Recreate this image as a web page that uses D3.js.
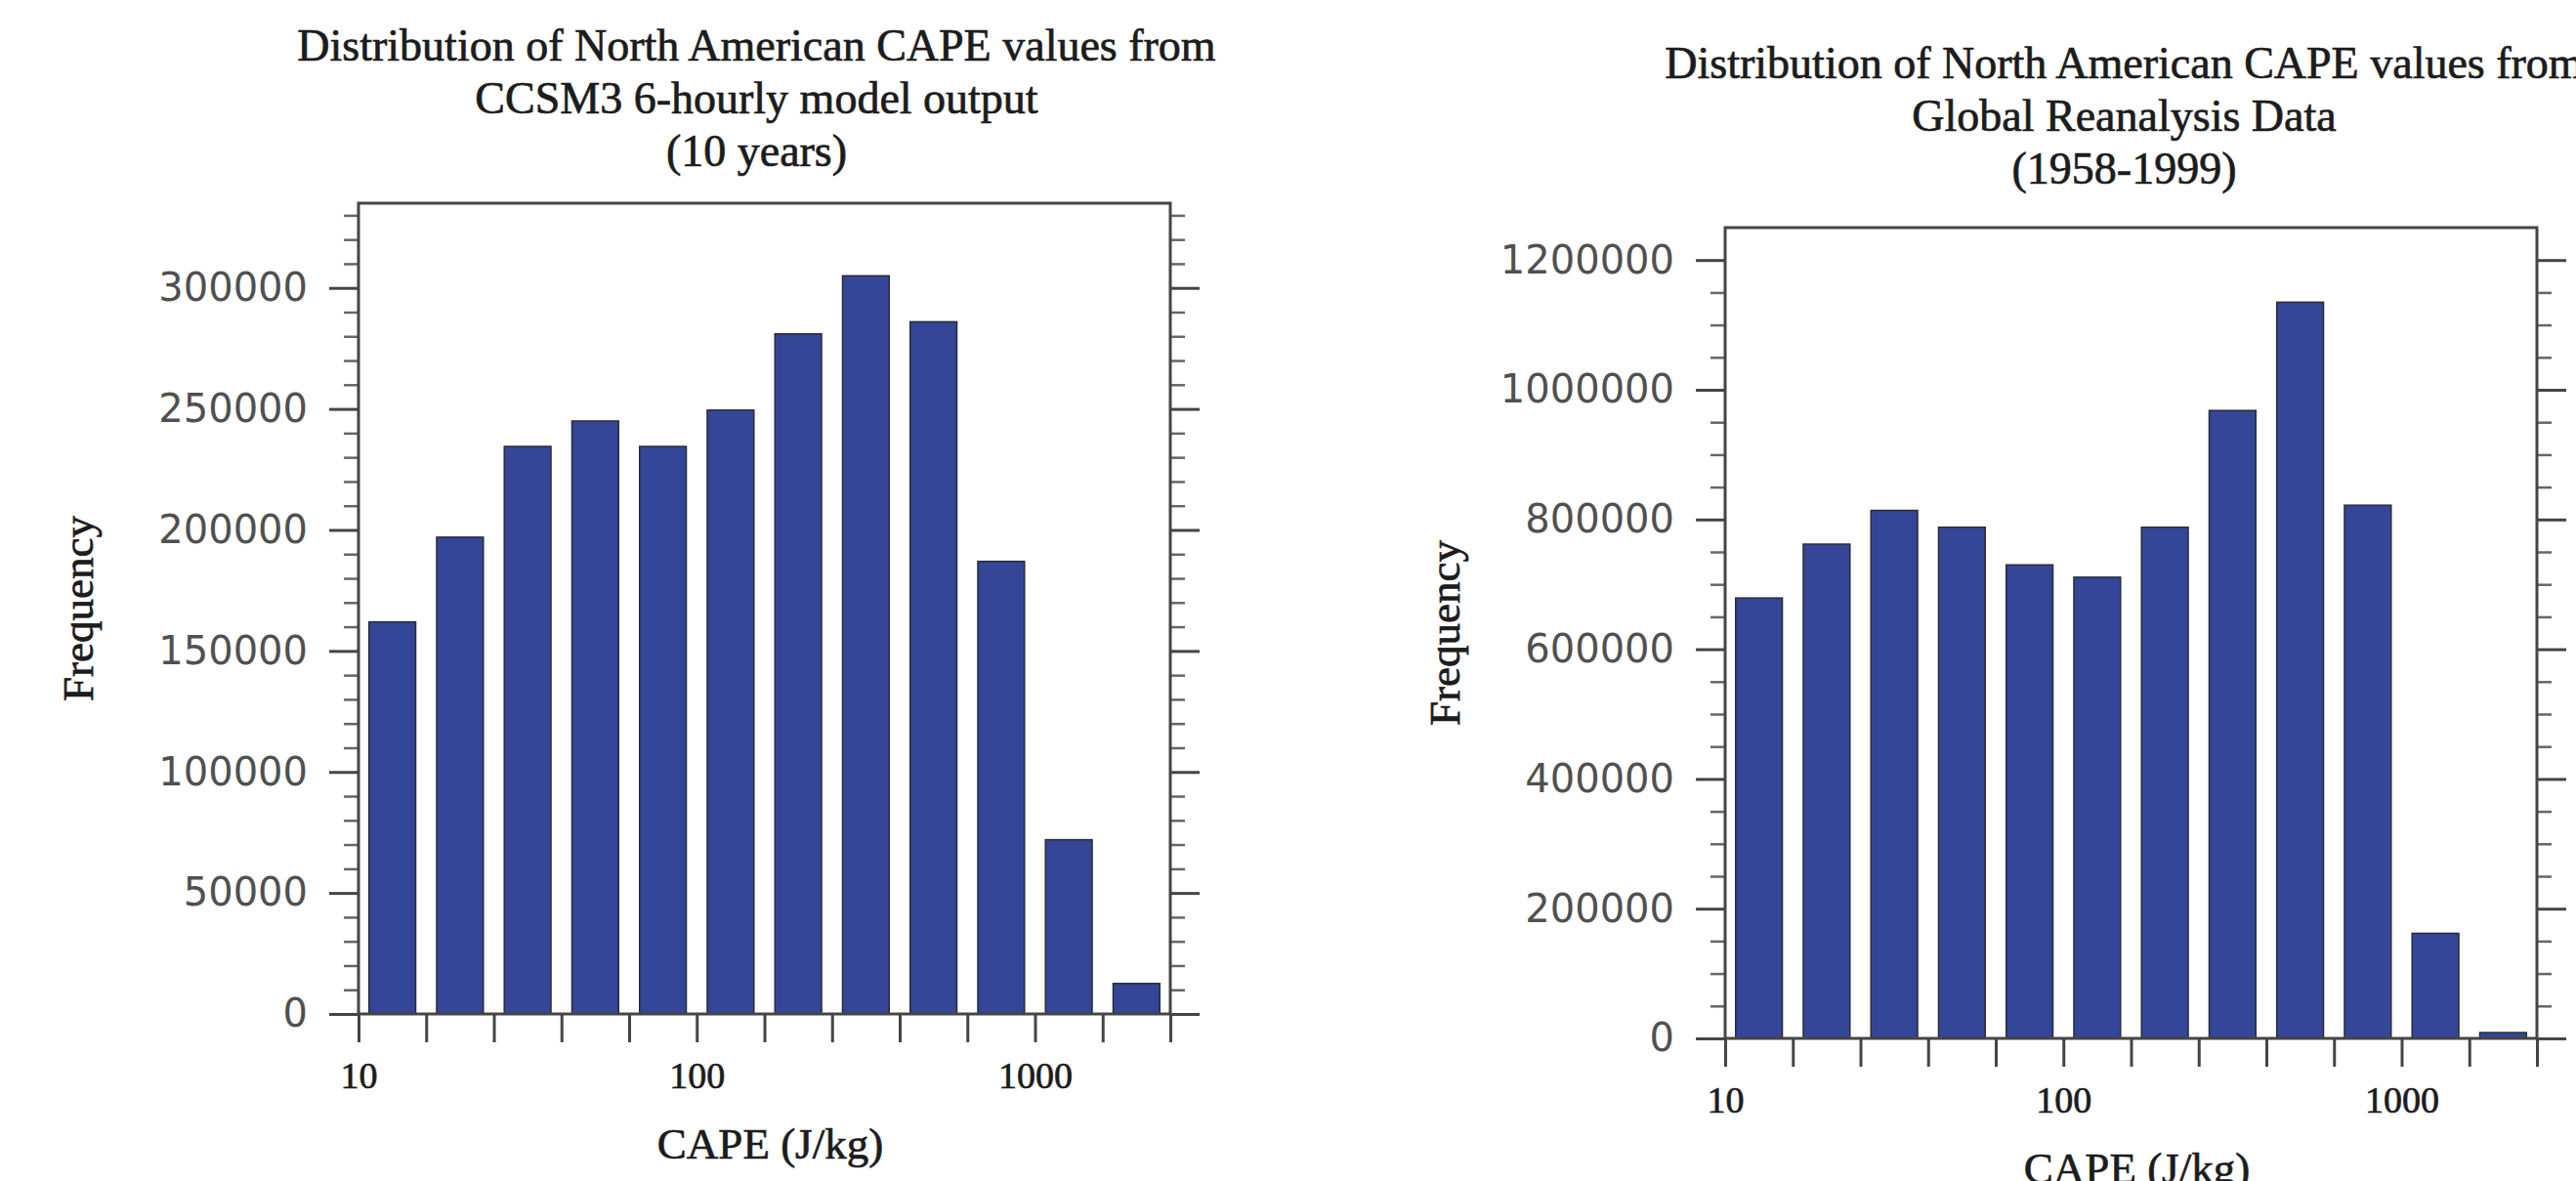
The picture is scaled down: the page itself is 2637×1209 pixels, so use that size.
<!DOCTYPE html>
<html>
<head>
<meta charset="utf-8">
<script src="https://cdn.jsdelivr.net/npm/d3@7"></script>
<style>
  html, body { margin: 0; padding: 0; background: #fff; }
  svg { display: block; }
</style>
</head>
<body>
<div id="chart"></div>
<script>
// bin edges (CAPE, J/kg), 5 bins per decade
const binEdges = [10, 15.85, 25.12, 39.81, 63.1, 100, 158.5, 251.2, 398.1, 631, 1000, 1585, 2512];
const xLabelTicks = [10, 100, 1000];

// CCSM3 6-hourly model output
const ccsmFreq = [162000, 197000, 234500, 245000, 234500, 249500, 281000, 305000, 286000, 187000, 72000, 12600];
const ccsmYTicks = [0, 50000, 100000, 150000, 200000, 250000, 300000];
const ccsmYMax = 335000;
const ccsmMinorStep = 10000;
const ccsmTitle = ["Distribution of North American CAPE values from", "CCSM3 6-hourly  model  output", "(10 years)"];

// Global reanalysis
const reanFreq = [679000, 762000, 814000, 788000, 730000, 711000, 788000, 968000, 1135000, 822000, 162000, 9000];
const reanYTicks = [0, 200000, 400000, 600000, 800000, 1000000, 1200000];
const reanYMax = 1250000;
const reanMinorStep = 50000;
const reanTitle = ["Distribution of North American CAPE values from", "Global Reanalysis Data", "(1958-1999)"];

const W = 2637, H = 1209;
const serif = "'Liberation Serif', 'Times New Roman', serif";
const sans = "'DejaVu Sans', sans-serif";
const axisColor = "#454545";
const textColor = "#1c1c1c";

const svg = d3.select("#chart")
  .append("svg")
  .attr("width", W)
  .attr("height", H);

// serif labels in the original look a bit heavier than the plain font
function heavy(sel) {
  sel.attr("fill", textColor)
    .attr("stroke", textColor)
    .attr("stroke-width", 0.7)
    .style("font-family", serif);
}

function drawPanel(p) {
  const w = p.width, h = p.height;
  const g = svg.append("g").attr("transform", `translate(${p.left},${p.top})`);

  const x = d3.scaleLog().domain([binEdges[0], binEdges[binEdges.length - 1]]).range([0, w]);
  const y = d3.scaleLinear().domain([0, p.yMax]).range([h, 0]);

  const minor = d3.range(0, p.yMax, p.minorStep).filter(v => !p.yTicks.includes(v));

  // bars
  const bins = p.values.map((v, i) => ({ x0: binEdges[i], x1: binEdges[i + 1], v }));
  g.selectAll(".bar")
    .data(bins)
    .join("rect")
    .attr("class", "bar")
    .attr("x", d => {
      const a = x(d.x0), b = x(d.x1);
      return a + (b - a) * 0.155;
    })
    .attr("width", d => (x(d.x1) - x(d.x0)) * 0.69)
    .attr("y", d => y(d.v))
    .attr("height", d => h - y(d.v))
    .attr("fill", "#334698")
    .attr("stroke", "#2b2b33")
    .attr("stroke-width", 1.5);

  // minor ticks left and right
  g.append("g")
    .call(d3.axisLeft(y).tickValues(minor).tickSize(15).tickFormat(""))
    .call(s => s.select(".domain").remove())
    .call(s => s.selectAll("line").attr("stroke", "#666").attr("stroke-width", 2.5));
  g.append("g")
    .attr("transform", `translate(${w},0)`)
    .call(d3.axisRight(y).tickValues(minor).tickSize(15).tickFormat(""))
    .call(s => s.select(".domain").remove())
    .call(s => s.selectAll("line").attr("stroke", "#666").attr("stroke-width", 2.5));

  // major y ticks
  g.append("g")
    .call(d3.axisLeft(y).tickValues(p.yTicks).tickSize(30).tickPadding(22).tickFormat(d3.format("d")))
    .call(s => s.select(".domain").remove())
    .call(s => s.selectAll("line").attr("stroke", axisColor).attr("stroke-width", 3))
    .call(s => s.selectAll("text")
      .attr("fill", "#505050")
      .style("font-family", sans)
      .style("font-size", "40px"));
  g.append("g")
    .attr("transform", `translate(${w},0)`)
    .call(d3.axisRight(y).tickValues(p.yTicks).tickSize(30).tickFormat(""))
    .call(s => s.select(".domain").remove())
    .call(s => s.selectAll("line").attr("stroke", axisColor).attr("stroke-width", 3));

  // x ticks at bin edges
  g.append("g")
    .attr("transform", `translate(0,${h})`)
    .call(d3.axisBottom(x).tickValues(binEdges).tickSize(29).tickPadding(20)
      .tickFormat(d => xLabelTicks.includes(d) ? String(d) : ""))
    .call(s => s.select(".domain").remove())
    .call(s => s.selectAll("line").attr("stroke", axisColor).attr("stroke-width", 3))
    .call(s => s.selectAll("text").call(heavy).style("font-size", "38px"));

  // frame
  g.append("rect")
    .attr("width", w)
    .attr("height", h)
    .attr("fill", "none")
    .attr("stroke", axisColor)
    .attr("stroke-width", 3);

  // titles
  const cx = w / 2 + p.titleDx;
  g.append("g")
    .selectAll("text")
    .data(p.title)
    .join("text")
    .attr("x", cx)
    .attr("y", (d, i) => p.titleY - p.top + i * 54)
    .attr("text-anchor", "middle")
    .call(heavy)
    .style("font-size", "46px")
    .text(d => d);

  // axis labels
  g.append("text")
    .attr("transform", `translate(${-272},${h / 2}) rotate(-90)`)
    .attr("text-anchor", "middle")
    .call(heavy)
    .style("font-size", "45px")
    .text("Frequency");

  g.append("text")
    .attr("x", w / 2 + 6)
    .attr("y", h + 148)
    .attr("text-anchor", "middle")
    .call(heavy)
    .style("font-size", "45px")
    .text("CAPE (J/kg)");
}

drawPanel({
  left: 367, top: 208, width: 831, height: 830,
  values: ccsmFreq, yTicks: ccsmYTicks, yMax: ccsmYMax, minorStep: ccsmMinorStep,
  title: ccsmTitle, titleY: 62, titleDx: -8
});

drawPanel({
  left: 1766, top: 233, width: 831, height: 830,
  values: reanFreq, yTicks: reanYTicks, yMax: reanYMax, minorStep: reanMinorStep,
  title: reanTitle, titleY: 80, titleDx: -7
});
</script>
</body>
</html>
